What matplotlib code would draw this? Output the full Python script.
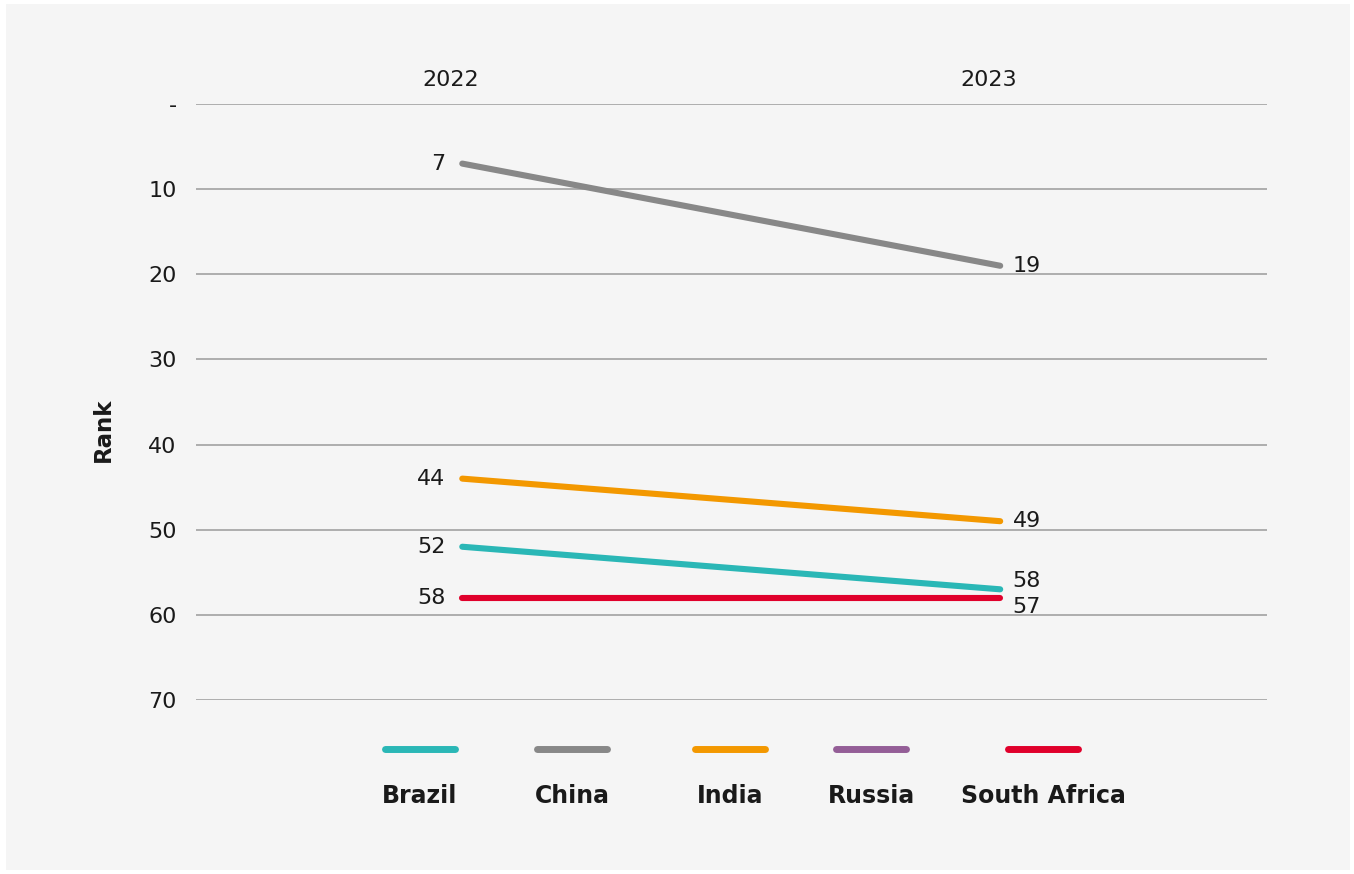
import matplotlib.pyplot as plt
from matplotlib.lines import Line2D
from matplotlib.patches import Rectangle

plt.rcParams['font.family'] = ['DejaVu Sans']

years = ['2022', '2023']
countries = ['Brazil', 'China', 'India', 'Russia', 'South Africa']
colors = ['#2ab7b6', '#888888', '#f39800', '#945e97', '#e0002b']
rank_2022 = [52, 7, 44, None, 58]
rank_2023 = [57, 19, 49, None, 58]

# label nudges (points) so the close 2023 labels don't collide
nudge_2023 = {'Brazil': -13, 'South Africa': 12}

yticks = [0, 10, 20, 30, 40, 50, 60, 70]
ytick_labels = ['-', '10', '20', '30', '40', '50', '60', '70']

W, H = 1354, 874
fig = plt.figure(figsize=(W / 100, H / 100), dpi=100)
fig.patch.set_facecolor('white')
fig.add_artist(Rectangle((6 / W, 4 / H), (W - 10) / W, (H - 8) / H,
                         transform=fig.transFigure, facecolor='#f5f5f5',
                         edgecolor='none', zorder=0))

ax = fig.add_axes([196 / W, 1 - 700 / H, (1267 - 196) / W, 596 / H])
ax.set_facecolor('none')
ax.set_xlim(-0.495, 1.496)
ax.set_ylim(70, 0)

for v in yticks:
    ax.axhline(v, color='#9a9a9a', lw=1.1, zorder=1)

num_font = dict(fontsize=16, color='#1a1a1a')

for name, c, a, b in zip(countries, colors, rank_2022, rank_2023):
    if a is None:
        continue
    ax.plot([0, 1], [a, b], color=c, lw=4.4, solid_capstyle='round', zorder=3)
    ax.annotate(str(a), (0, a), xytext=(-12, 0), textcoords='offset points',
                ha='right', va='center', **num_font)
    ax.annotate(str(b), (1, b), xytext=(9, nudge_2023.get(name, 0)),
                textcoords='offset points', ha='left', va='center', **num_font)

ax.set_yticks(yticks)
ax.set_yticklabels(ytick_labels, **num_font)
ax.tick_params(axis='y', length=0, pad=14)
ax.set_xticks([])
for s in ax.spines.values():
    s.set_visible(False)

for i, yr in enumerate(years):
    ax.annotate(yr, (i, 0), xytext=(-8, 17), textcoords='offset points',
                ha='center', va='center', **num_font)

fig.text(103 / W, 1 - 430 / H, 'Rank', rotation=90, ha='center', va='center',
         fontsize=16.5, fontweight='bold', color='#1a1a1a')

# legend: short swatch with bold name underneath
legend_x = [420, 572, 730, 871, 1043]
for name, c, x in zip(countries, colors, legend_x):
    fig.add_artist(Line2D([(x - 35) / W, (x + 35) / W], [1 - 749 / H] * 2,
                          color=c, lw=5, solid_capstyle='round',
                          transform=fig.transFigure))
    fig.text(x / W, 1 - 796 / H, name, ha='center', va='center',
             fontsize=17, fontweight='bold', color='#1a1a1a')

fig.savefig('out.png', dpi=100, facecolor=fig.get_facecolor())
